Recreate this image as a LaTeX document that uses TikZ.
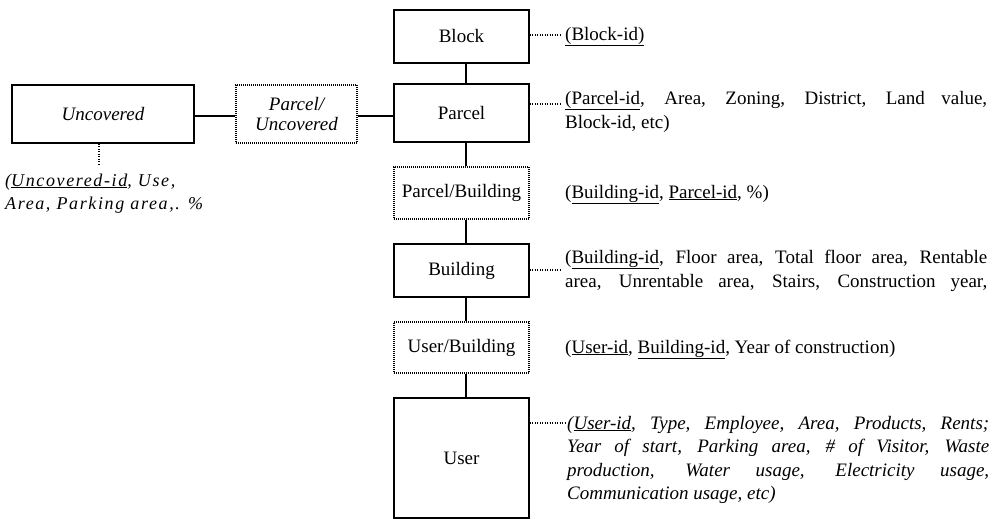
\documentclass[tikz,border=0pt]{standalone}
\usepackage{fontspec}
\setmainfont{Liberation Serif}
\newfontfamily\spacedit[LetterSpace=9]{Liberation Serif}
\newcommand{\bfz}{\fontsize{19}{22}\selectfont}
\newcommand{\ulk}[1]{\underline{#1}}
\newcommand{\attrbox}[2]{\parbox[t]{422pt}{\bfz\baselineskip=#1\tolerance=10000\hbadness=10000 #2}}
\tikzset{
  ent/.style={draw, line width=1.4pt, minimum width=135pt, inner sep=0pt, align=center, font=\bfz},
  assoc/.style={draw, line width=1.2pt, dash pattern=on 0.9pt off 1.1pt, minimum width=135pt, inner sep=0pt, align=center, font=\bfz},
  link/.style={line width=1.9pt},
  dotlink/.style={line width=1.2pt, dash pattern=on 1pt off 1.5pt},
  attr/.style={anchor=base west, inner sep=0pt, font=\bfz}
}
\begin{document}
\begin{tikzpicture}[x=1pt,y=-1pt]
\useasboundingbox (0,0) rectangle (990,522);
% entities
\node[ent, minimum height=53pt] (block) at (461.5,36.5) {Block};
\node[ent, minimum height=58pt] (parcel) at (461.5,113) {Parcel};
\node[assoc, minimum height=52pt] (pb) at (461.5,193) {Parcel/Building};
\node[ent, minimum height=53pt] (building) at (461.5,270.5) {Building};
\node[assoc, minimum height=51pt] (ub) at (461.5,347.5) {User/Building};
\node[ent, minimum height=120pt] (user) at (461.5,458) {User};
\node[ent, minimum width=182pt, minimum height=58pt, font=\bfz\itshape] (unc) at (103,114) {Uncovered};
\node[assoc, minimum width=121pt, minimum height=58pt, font=\bfz\itshape, align=center] (pu) at (296.5,114) {Parcel/\\[-2pt]Uncovered};
% connectors
\draw[link] ([xshift=4.5pt]block.south) -- ([xshift=4.5pt]parcel.north);
\draw[link] ([xshift=4.5pt]parcel.south) -- ([xshift=4.5pt]pb.north);
\draw[link] ([xshift=4.5pt]pb.south) -- ([xshift=4.5pt]building.north);
\draw[link] ([xshift=4.5pt]building.south) -- ([xshift=4.5pt]ub.north);
\draw[link] ([xshift=4.5pt]ub.south) -- ([xshift=4.5pt]user.north);
\draw[link] ([yshift=-2pt]unc.east) -- ([yshift=-2pt]pu.west);
\draw[link] ([yshift=-2pt]pu.east) -- ([yshift=-2pt]pu.east -| parcel.west);
% attribute texts
\node[attr] (ablock) at (565,40) {\ulk{(Block-id)}};
\node[attr] (aparcel) at (565,104) {\attrbox{24pt}{\ulk{(Parcel-id}, Area, Zoning, District, Land value,\linebreak Block-id, etc)}};
\node[attr] (apb) at (565,198) {(\ulk{Building-id}, \ulk{Parcel-id}, \%)};
\node[attr] (abuilding) at (565,263) {\attrbox{24pt}{\parfillskip=0pt (\ulk{Building-id}, Floor area, Total floor area, Rentable\linebreak area, Unrentable area, Stairs, Construction year,}};
\node[attr] (aub) at (565,353) {(\ulk{User-id}, \ulk{Building-id}, Year of construction)};
\node[attr] (auser) at (567,429) {\attrbox{23.5pt}{\itshape (\ulk{User-id}, Type, Employee, Area, Products, Rents;\linebreak Year of start, Parking area, \# of Visitor, Waste\linebreak production, Water usage, Electricity usage,\linebreak Communication usage, etc)}};
\node[attr, font=\fontsize{18}{23}\selectfont\spacedit\itshape, align=left] (aunc) at (5,209) {(\ulk{Uncovered-id}, Use,\\Area, Parking area,. \%};
% dotted links
\coordinate (cb) at (562,35);
\coordinate (cp) at (562,104);
\coordinate (cbu) at (562,270);
\coordinate (cu) at (565,423);
\coordinate (cun) at (99,166);
\draw[dotlink] (block.east |- cb) -- (cb);
\draw[dotlink] (parcel.east |- cp) -- (cp);
\draw[dotlink] (building.east |- cbu) -- (cbu);
\draw[dotlink] (user.east |- cu) -- (cu);
\draw[dotlink] (unc.south -| cun) -- (cun);
\end{tikzpicture}
\end{document}
